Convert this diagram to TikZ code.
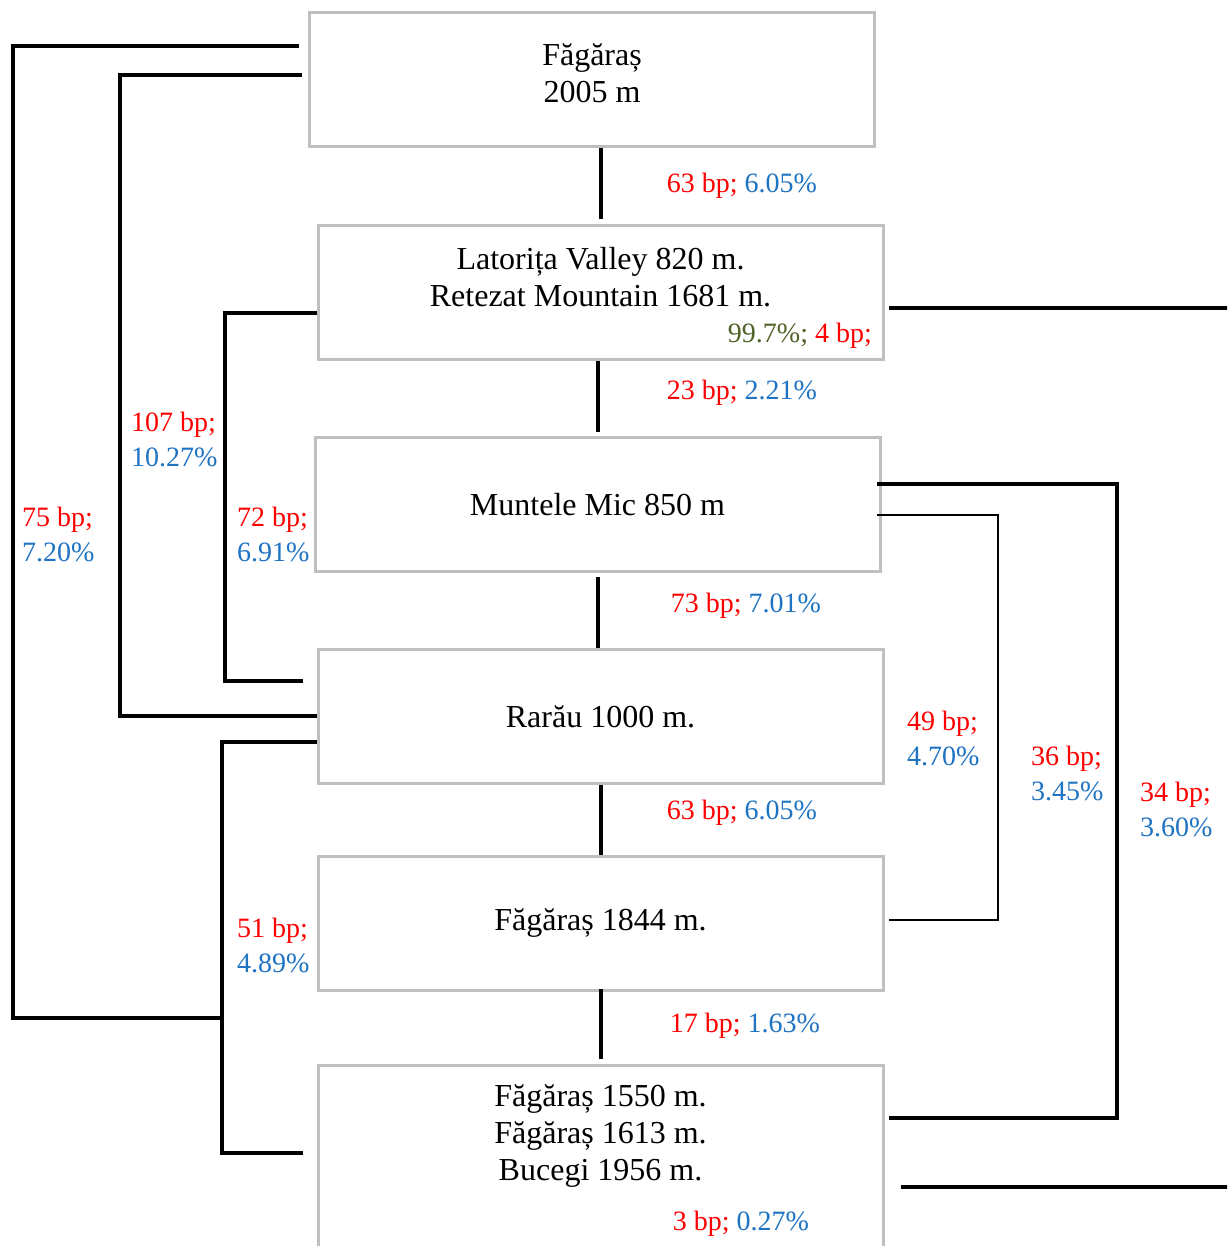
\documentclass[tikz,border=0pt]{standalone}
\usepackage{fontspec}
\setmainfont{Liberation Serif}
\usetikzlibrary{calc}
\definecolor{lred}{RGB}{255,0,0}
\definecolor{lblue}{RGB}{30,115,195}
\definecolor{lgreen}{RGB}{79,98,40}
\definecolor{boxgray}{RGB}{191,191,191}
\begin{document}
\begin{tikzpicture}[x=1pt,y=-1pt,
  box/.style={draw=boxgray, line width=3pt, minimum width=565pt, minimum height=134pt, inner sep=0pt, align=center, font=\fontsize{32}{37}\selectfont},
  boxtxt/.style={inner sep=0pt, align=center, font=\fontsize{32}{37}\selectfont},
  lab/.style={inner sep=0pt, font=\fontsize{28}{35}\selectfont},
  lab2/.style={lab, align=left, anchor=west},
  conn/.style={line width=4pt},
  thinconn/.style={line width=2pt}]
\useasboundingbox (0,0) rectangle (1227,1246);
\clip (0,0) rectangle (1227,1246);
\fill[white] (0,0) rectangle (1227,1246);

% boxes
\node[box] (b1) at (592,79.5) {};
\node[box] (b2) at (600.5,292.5) {};
\node[box] (b3) at (597.5,504.5) {Muntele Mic 850 m};
\node[box] (b4) at (600.5,716.5) {Rarău 1000 m.};
\node[box] (b5) at (600.5,923.5) {Făgăraș 1844 m.};
\node[box, minimum height=220pt] (b6) at (600.5,1175.5) {};

\node[boxtxt] (t1) at (592,73) {Făgăraș\\2005 m};
\node[boxtxt] (t2) at (600.5,277) {Latorița Valley 820 m.\\Retezat Mountain 1681 m.};
\node[lab, anchor=east] (t2b) at (872,336) {\textcolor{lgreen}{99.7\%;} \textcolor{lred}{4 bp;}};
\node[boxtxt] (t6) at (600.5,1136) {Făgăraș 1550 m.\\Făgăraș 1613 m.\\Bucegi 1956 m.};
\node[lab] (t6b) at (741,1224) {\textcolor{lred}{3 bp;} \textcolor{lblue}{0.27\%}};

% vertical chain connectors
\draw[conn] (b1.south -| b2.north) -- ($(b2.north)+(0,-5)$);
\draw[conn] ($(b2.south)+(-2.5,0)$) -- ($(b3.north)+(0.5,-4)$);
\draw[conn] ($(b3.south)+(0.5,4)$) -- ($(b4.north)+(-2.5,0)$);
\draw[conn] (b4.south) -- (b5.north);
\draw[conn] ($(b5.south)+(0,-3)$) -- ($(b6.north)+(0,-5)$);

% chain labels
\node[lab] (l1) at (742,186) {\textcolor{lred}{63 bp;} \textcolor{lblue}{6.05\%}};
\node[lab] (l2) at (742,393) {\textcolor{lred}{23 bp;} \textcolor{lblue}{2.21\%}};
\node[lab] (l3) at (746,606) {\textcolor{lred}{73 bp;} \textcolor{lblue}{7.01\%}};
\node[lab] (l4) at (742,813) {\textcolor{lred}{63 bp;} \textcolor{lblue}{6.05\%}};
\node[lab] (l5) at (745,1026) {\textcolor{lred}{17 bp;} \textcolor{lblue}{1.63\%}};

% left brackets
\coordinate (j51) at (222,1018);
\draw[conn] ($(b1.west|-0,46)+(-9,0)$) -| (13,1018) -- (j51);
\draw[conn] ($(b1.west|-0,75)+(-6,0)$) -| (120,716) -- (b4.west|-0,716);
\draw[conn] (b2.west|-0,313) -| (225,681) -- ($(b4.west|-0,681)+(-14,0)$);
\draw[conn] (b4.west|-0,742) -| (222,1153) -- ($(b6.west|-0,1153)+(-14,0)$);

% right brackets
\coordinate (eR1) at (1232,308);
\coordinate (eR2) at (1232,1187);
\draw[conn] ($(b2.east|-0,308)+(4,0)$) -- (eR1);
\draw[conn] ($(b3.east|-0,484)+(-5,0)$) -| (1117,1118) -- ($(b6.east|-0,1118)+(4,0)$);
\draw[thinconn] ($(b3.east|-0,515)+(-5,0)$) -| (998,920) -- ($(b5.east|-0,920)+(4,0)$);
\draw[conn] ($(b6.east|-0,1187)+(16,0)$) -- (eR2);

% bracket labels
\node[lab2] (m107) at (131,439) {\textcolor{lred}{107 bp;}\\\textcolor{lblue}{10.27\%}};
\node[lab2] (m75) at (22,534) {\textcolor{lred}{75 bp;}\\\textcolor{lblue}{7.20\%}};
\node[lab2] (m72) at (237,534) {\textcolor{lred}{72 bp;}\\\textcolor{lblue}{6.91\%}};
\node[lab2] (m51) at (237,945) {\textcolor{lred}{51 bp;}\\\textcolor{lblue}{4.89\%}};
\node[lab2] (m49) at (907,738.5) {\textcolor{lred}{49 bp;}\\\textcolor{lblue}{4.70\%}};
\node[lab2] (m36) at (1031,773) {\textcolor{lred}{36 bp;}\\\textcolor{lblue}{3.45\%}};
\node[lab2] (m34) at (1140,809) {\textcolor{lred}{34 bp;}\\\textcolor{lblue}{3.60\%}};
\end{tikzpicture}
\end{document}
